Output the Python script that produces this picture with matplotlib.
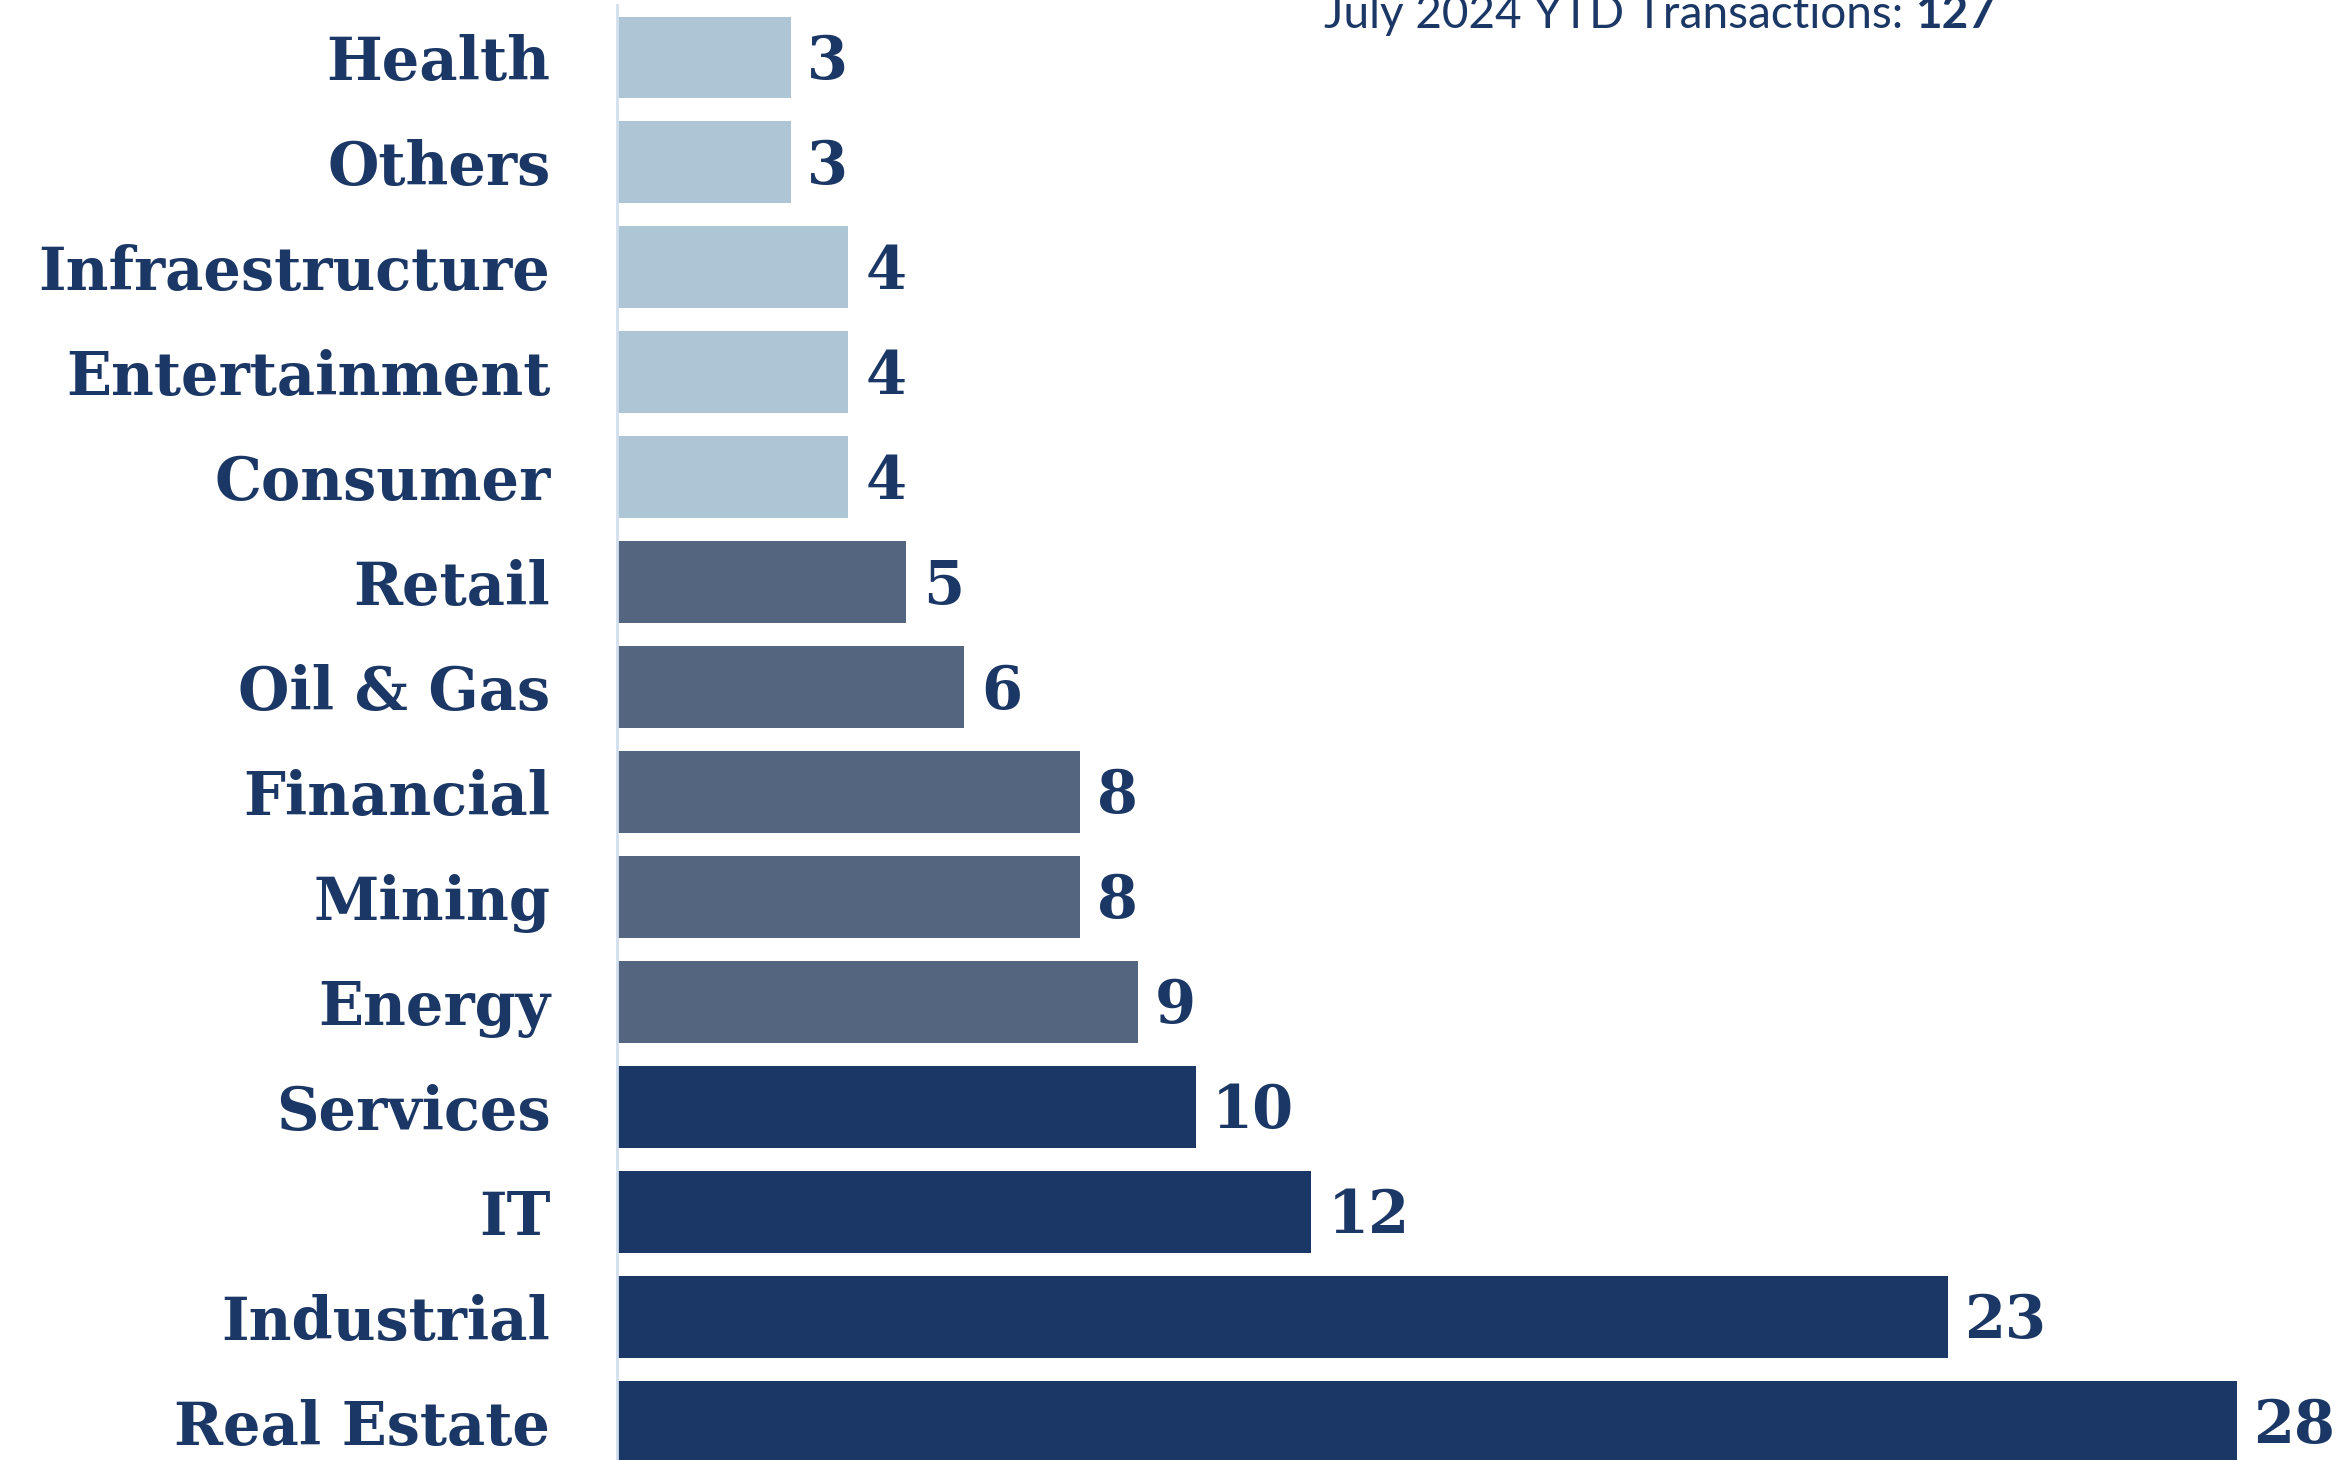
import matplotlib
matplotlib.use("Agg")
import matplotlib.pyplot as plt

categories = ["Real Estate", "Industrial", "IT", "Services", "Energy", "Mining",
              "Financial", "Oil & Gas", "Retail", "Consumer", "Entertainment",
              "Infraestructure", "Others", "Health"]
values = [28, 23, 12, 10, 9, 8, 8, 6, 5, 4, 4, 4, 3, 3]
groups = ["dark"] * 4 + ["mid"] * 5 + ["light"] * 5
title_text = "July 2024 YTD Transactions: "
title_total = "127"

palette = {"dark": "#1B3765", "mid": "#53657F", "light": "#AEC5D5"}
text_color = "#1B3765"
serif = "DejaVu Serif"

fig = plt.figure(figsize=(23.41, 14.60), dpi=100)
ax = fig.add_axes([0.2636, 0.0, 1 - 0.2636, 0.9966])

ypos = list(range(len(categories)))
ax.barh(ypos, values, height=0.78, color=[palette[g] for g in groups])
ax.set_xlim(0, 29.8)
ax.set_ylim(-0.36, 13.5)

for s in ["top", "right", "bottom"]:
    ax.spines[s].set_visible(False)
ax.spines["left"].set_color("#D3DFEE")
ax.spines["left"].set_linewidth(2)
ax.set_xticks([])
ax.set_yticks(ypos)
ax.set_yticklabels(categories, fontfamily=serif, fontweight="bold",
                   fontsize=42.5, color=text_color)
ax.tick_params(axis="y", length=0, pad=48)
for lbl in ax.get_yticklabels():
    lbl.set_va("center_baseline")

for y, v in zip(ypos, values):
    ax.annotate(str(v), (v, y), xytext=(12, -3), textcoords="offset points",
                ha="left", va="center", fontfamily=serif, fontweight="bold",
                fontsize=42.5, color=text_color, annotation_clip=False)

ty = 0.981
t1 = fig.text(0.692, ty, title_text, ha="center", va="baseline",
              fontfamily="Lato", fontweight="normal", fontsize=33, color=text_color)
fig.canvas.draw()
bb = t1.get_window_extent()
fig.text(bb.x1 / fig.bbox.width, ty, title_total, ha="left", va="baseline",
         fontfamily="Lato", fontweight="bold", fontsize=33, color=text_color)

fig.savefig("out.png", dpi=100)
